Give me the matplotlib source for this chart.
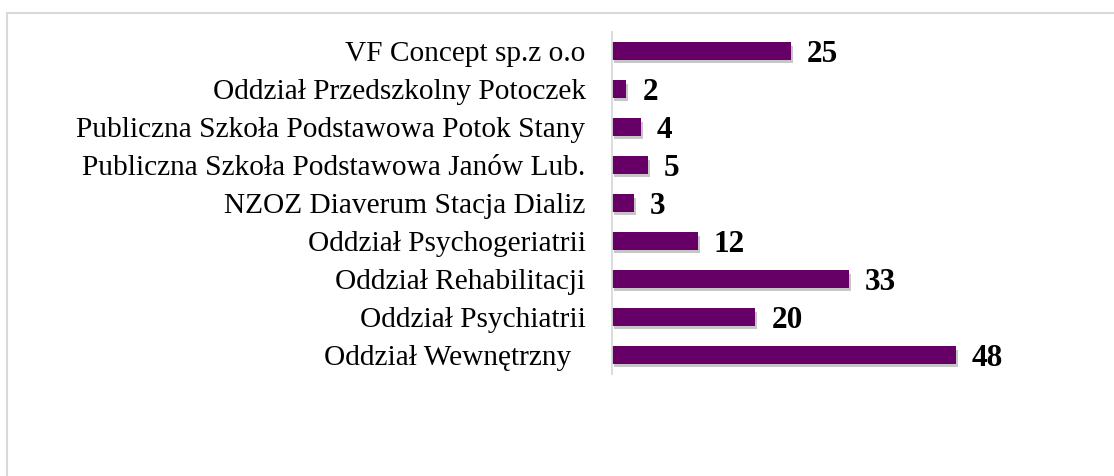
import matplotlib.pyplot as plt
import matplotlib.patheffects as pe
from matplotlib.patches import Rectangle

# categories listed top to bottom as in the chart
categories = [
    'VF Concept sp.z o.o',
    'Oddział Przedszkolny Potoczek',
    'Publiczna Szkoła Podstawowa Potok Stany',
    'Publiczna Szkoła Podstawowa Janów Lub.',
    'NZOZ Diaverum Stacja Dializ',
    'Oddział Psychogeriatrii',
    'Oddział Rehabilitacji',
    'Oddział Psychiatrii',
    'Oddział Wewnętrzny  ',
]
values = [25, 2, 4, 5, 3, 12, 33, 20, 48]

bar_color = '#660066'

plt.rcParams['font.family'] = ['Liberation Serif', 'DejaVu Serif']

fig = plt.figure(figsize=(11.14, 4.76), dpi=100)
W, H = 1114, 476

# light grey frame round the chart area
fig.patches.append(Rectangle((7 / W, -0.05), 1.2, 1 - 13 / H + 0.05,
                             transform=fig.transFigure, fill=False,
                             edgecolor='#d9d9d9', lw=1.5))

ax = fig.add_axes([612 / W, 102 / H, 430 / W, 342 / H])
pos = list(range(len(categories)))
bars = ax.barh(pos, values, height=0.45, color=bar_color)
for b in bars:
    b.set_path_effects([pe.SimplePatchShadow(offset=(1.5, -2.5), alpha=0.3, shadow_rgbFace='#444444'),
                        pe.Normal()])

for p, v in zip(pos, values):
    ax.annotate(str(v), (v, p), xytext=(11.5, -2.5), textcoords='offset points',
                ha='left', va='center', fontsize=22.5, fontweight='bold')

ax.set_xlim(0, 60)
ax.set_ylim(len(categories) - 0.5, -0.5)
ax.set_yticks(pos)
ax.set_yticklabels(categories, fontsize=21.2)
ax.tick_params(axis='y', length=0, pad=19)
ax.set_xticks([])
for s in ['top', 'right', 'bottom']:
    ax.spines[s].set_visible(False)
ax.spines['left'].set_color('#d9d9d9')
ax.spines['left'].set_linewidth(1.3)

fig.savefig('out.png', dpi=100)
